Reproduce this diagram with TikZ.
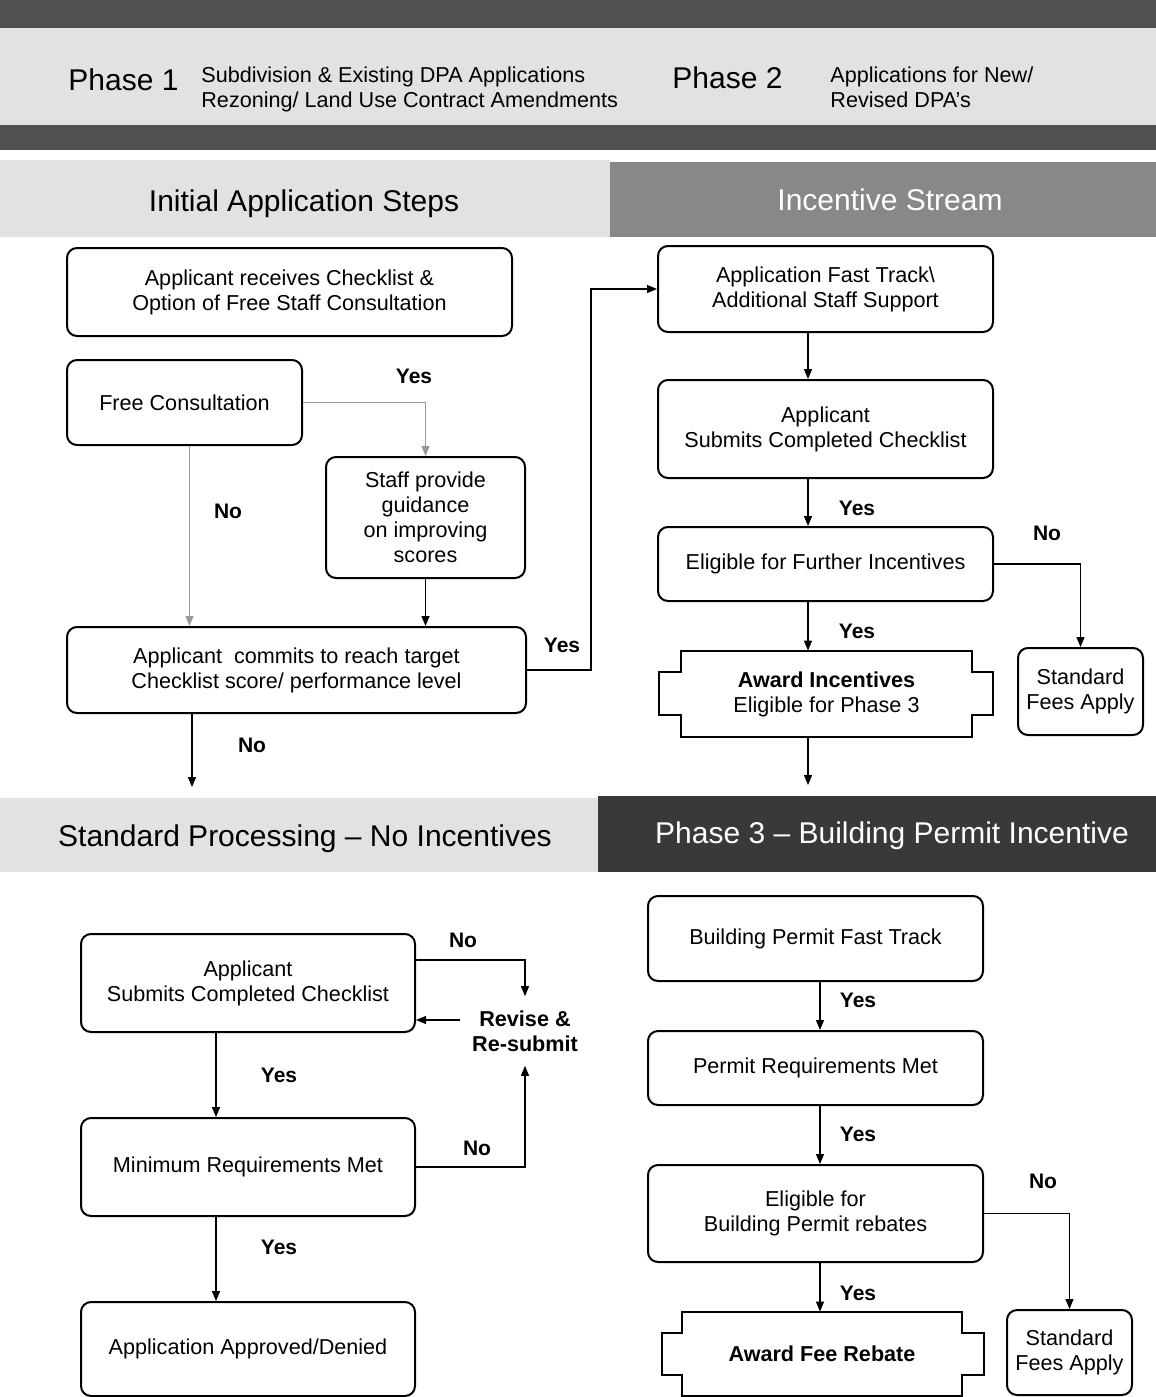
\documentclass[tikz,border=0pt]{standalone}
\usepackage{fontspec}
\setmainfont{Liberation Sans}
\usetikzlibrary{arrows.meta,calc}
\definecolor{lightband}{HTML}{E2E2E2}
\definecolor{darkband}{HTML}{505050}
\definecolor{midband}{HTML}{888888}
\definecolor{phasethree}{HTML}{393939}
\tikzset{
  box/.style={draw, line width=1pt, rounded corners=5pt, align=center, inner sep=0pt,
    font=\fontsize{10.8}{12.5}\selectfont},
  plain/.style={align=center, inner sep=0pt, font=\fontsize{10.8}{12.5}\selectfont},
  conn/.style={-{Triangle[length=5pt,width=4pt]}, line width=0.6pt},
  faint/.style={conn, draw=black!40},
  lbl/.style={font=\bfseries\fontsize{10.5}{12}\selectfont, inner sep=0pt},
  sect/.style={font=\fontsize{15}{17}\selectfont, inner sep=0pt},
  notched/.style={draw, line width=1pt, fill=white}
}
\begin{document}
\begin{tikzpicture}[x=0.5pt,y=-0.5pt]
\useasboundingbox (0,0) rectangle (1156,1397);
% header bands
\fill[darkband] (0,0) rectangle (1156,28);
\fill[lightband] (0,28) rectangle (1156,125);
\fill[darkband] (0,125) rectangle (1156,150);
\fill[lightband] (0,160) rectangle (610,237);
\fill[midband] (610,162) rectangle (1156,237);
\fill[lightband] (0,798) rectangle (598,872);
\fill[phasethree] (598,796) rectangle (1156,872);

\node[sect, anchor=west] (ph1) at (68,80) {Phase 1};
\node[plain, anchor=west, align=left] (ph1t) at (201,89) {Subdivision \& Existing DPA Applications\\Rezoning/ Land Use Contract Amendments};
\node[sect, anchor=west] (ph2) at (672,78) {Phase 2};
\node[plain, anchor=west, align=left] (ph2t) at (830,87) {Applications for New/\\Revised DPA's};

\node[sect] (s1) at (304,204) {Initial Application Steps};
\node[sect, text=white] (s2) at (890,200) {Incentive Stream};
\node[sect] (s3) at (305,839) {Standard Processing -- No Incentives};
\node[sect, text=white] (s4) at (892,836) {Phase 3 -- Building Permit Incentive};

% left column
\node[box, minimum width=222.5pt, minimum height=44pt] (A) at (289.5,292) {Applicant receives Checklist \&\\Option of Free Staff Consultation};
\node[box, minimum width=117.5pt, minimum height=42.5pt] (B) at (184.5,402.5) {Free Consultation};
\node[box, minimum width=99.5pt, minimum height=60.5pt] (C) at (425.5,517.5) {Staff provide\\guidance\\on improving\\scores};
\node[box, minimum width=229.5pt, minimum height=43pt] (D) at (296.5,670) {Applicant\ \ commits to reach target\\Checklist score/ performance level};

% right column
\node[box, minimum width=167.5pt, minimum height=43pt] (E) at (825.5,289) {Application Fast Track\textbackslash\\Additional Staff Support};
\node[box, minimum width=167.5pt, minimum height=49pt] (F) at (825.5,429) {Applicant\\Submits Completed Checklist};
\node[box, minimum width=167.5pt, minimum height=37pt] (G) at (825.5,564) {Eligible for Further Incentives};
\draw[notched] (681,651) -- (972,651) -- (972,672) -- (993,672) -- (993,715) -- (972,715) -- (972,737)
  -- (681,737) -- (681,715) -- (659,715) -- (659,672) -- (681,672) -- cycle;
\node[plain, minimum width=145.5pt, minimum height=43pt] (H) at (826.5,694) {\textbf{Award Incentives}\\Eligible for Phase 3};
\node[box, minimum width=62.5pt, minimum height=43.5pt] (I) at (1080.5,691.5) {Standard\\Fees Apply};

% bottom left
\node[box, minimum width=167pt, minimum height=49pt] (J) at (248,983) {Applicant\\Submits Completed Checklist};
\node[box, minimum width=167pt, minimum height=49pt] (K) at (248,1167) {Minimum Requirements Met};
\node[box, minimum width=167pt, minimum height=47pt] (L) at (248,1349) {Application Approved/Denied};
\node[plain, font=\bfseries\fontsize{10.8}{12.5}\selectfont, inner xsep=6pt, inner ysep=7pt] (R) at (525,1031) {Revise \&\\Re-submit};

% bottom right
\node[box, minimum width=167.5pt, minimum height=42.5pt] (M) at (815.5,938.5) {Building Permit Fast Track};
\node[box, minimum width=167.5pt, minimum height=37pt] (N) at (815.5,1068) {Permit Requirements Met};
\node[box, minimum width=167.5pt, minimum height=48.5pt] (O) at (815.5,1213.5) {Eligible for\\Building Permit rebates};
\draw[notched] (682,1312) -- (962,1312) -- (962,1333) -- (984,1333) -- (984,1375) -- (962,1375) -- (962,1396)
  -- (682,1396) -- (682,1375) -- (662,1375) -- (662,1333) -- (682,1333) -- cycle;
\node[plain, minimum width=140pt, minimum height=42pt, font=\bfseries\fontsize{10.8}{12.5}\selectfont] (P) at (822,1354) {Award Fee Rebate};
\node[box, minimum width=62.5pt, minimum height=42.5pt] (Q) at (1069.5,1352.5) {Standard\\Fees Apply};

% helper coordinates
\coordinate (yx) at (591,0);
\coordinate (cx) at (808,0);
\coordinate (lx) at (216,0);
\coordinate (px) at (820,0);
\coordinate (dn) at (192,787);
\coordinate (hd) at (808,785);

% connectors
\draw[faint] (B.east) -| (C.north);
\draw[faint] ($(B.south)+(5,0)$) -- ($(B.south |- D.north)+(5,0)$);
\draw[conn] (C.south) -- (C.south |- D.north);
\draw[conn] (dn |- D.south) -- (dn);
\draw[conn] (D.east) -- (D.east -| yx) -- (yx |- E.west) -- (E.west);
\draw[conn] (E.south -| cx) -- (F.north -| cx);
\draw[conn] (F.south -| cx) -- (G.north -| cx);
\draw[conn] (G.south -| cx) -- (H.north -| cx);
\draw[conn] (H.south -| cx) -- (hd);
\draw[conn] (G.east) -| (I.north);

\draw[conn] (J.south -| lx) -- (K.north -| lx);
\draw[conn] (K.south -| lx) -- (L.north -| lx);
\draw[conn] ($(J.east)+(0,-23)$) -| (R.north);
\draw[conn] ($(R.west)+(0,-11)$) -- ($(J.east)+(0,37)$);
\draw[conn] (K.east) -| (R.south);

\draw[conn] (M.south -| px) -- (N.north -| px);
\draw[conn] (N.south -| px) -- (O.north -| px);
\draw[conn] (O.south -| px) -- (P.north -| px);
\draw[conn] (O.east) -| (Q.north);

% labels
\node[lbl] (l1) at (414,376) {Yes};
\node[lbl] (l2) at (228,511) {No};
\node[lbl] (l3) at (562,645) {Yes};
\node[lbl] (l4) at (252,745) {No};
\node[lbl] (l5) at (857,508) {Yes};
\node[lbl] (l6) at (857,631) {Yes};
\node[lbl] (l7) at (1047,533) {No};
\node[lbl] (l8) at (463,940) {No};
\node[lbl] (l9) at (279,1075) {Yes};
\node[lbl] (l10) at (477,1148) {No};
\node[lbl] (l11) at (279,1247) {Yes};
\node[lbl] (l12) at (858,1000) {Yes};
\node[lbl] (l13) at (858,1134) {Yes};
\node[lbl] (l14) at (1043,1181) {No};
\node[lbl] (l15) at (858,1293) {Yes};
\end{tikzpicture}
\end{document}
